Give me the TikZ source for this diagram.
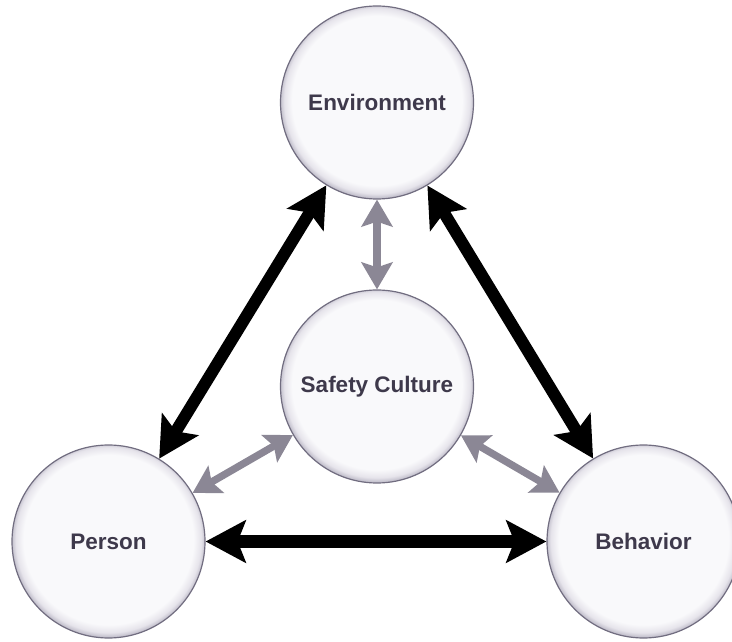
\documentclass[tikz,border=0pt]{standalone}
\usepackage{fontspec}
\setmainfont{Liberation Sans}
\usetikzlibrary{arrows.meta}

\definecolor{ballin}{HTML}{F9F9FB}
\definecolor{ballmid}{HTML}{E6E4EB}
\definecolor{ballout}{HTML}{ABA8B8}
\definecolor{ballrim}{HTML}{716D80}
\definecolor{balltext}{HTML}{3E394B}
\definecolor{linkgray}{HTML}{8B8795}

\pgfdeclareradialshading{ballshade}{\pgfpoint{0bp}{0.8bp}}{%
  color(0bp)=(ballin); color(22bp)=(ballin); color(24bp)=(ballmid);
  color(25.8bp)=(ballout); color(50bp)=(ballout)}

\tikzset{
  ball/.style={circle, minimum size=193pt, inner sep=0pt, shading=ballshade,
    draw=ballrim, line width=1.2pt, text=balltext,
    font=\bfseries\fontsize{22.5}{22.5}\selectfont},
  blackarrow/.style={line width=12pt, black,
    {Stealth[length=40pt,width=42pt,inset=8pt]}-{Stealth[length=40pt,width=42pt,inset=8pt]}},
  grayarrow/.style={line width=7.3pt, linkgray,
    {Stealth[length=27pt,width=31pt,inset=5pt]}-{Stealth[length=27pt,width=31pt,inset=5pt]}}
}

\begin{document}
\begin{tikzpicture}[x=1pt,y=1pt]

    \useasboundingbox (0,0) rectangle (732,641);

    \node [ball] (env) at (377, 538.5) {Environment};
    \node [ball] (culture) at (377, 254.5) {Safety Culture};
    \node [ball] (person) at (108.5, 99.5) {Person};
    \node [ball] (behavior) at (643.5, 99.5) {Behavior};

    \draw[blackarrow] (person) -- (env);
    \draw[blackarrow] (behavior) -- (env);
    \draw[blackarrow] (person) -- (behavior);

    \draw[grayarrow] (culture) -- (env);
    \draw[grayarrow] (culture) -- (person);
    \draw[grayarrow] (culture) -- (behavior);

\end{tikzpicture}
\end{document}
